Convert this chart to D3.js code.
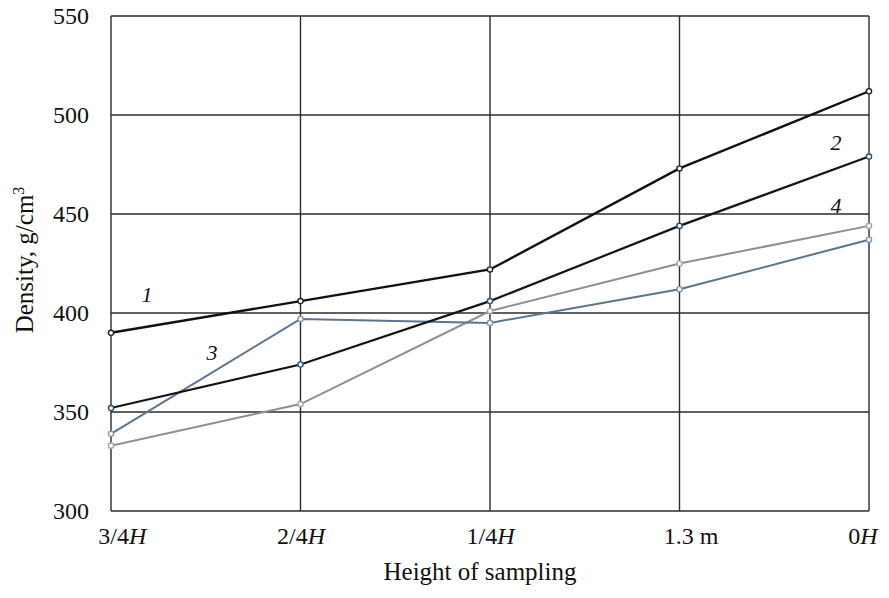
<!DOCTYPE html>
<html>
<head>
<meta charset="utf-8">
<script src="https://cdn.jsdelivr.net/npm/d3@7"></script>
<style>
  body { margin: 0; background: #fff; }
  text { font-family: "Liberation Serif", "DejaVu Serif", serif; fill: #111; }
</style>
</head>
<body>
<div id="main"></div>
<script>
// Data
const categories = ['3/4H', '2/4H', '1/4H', '1.3 m', '0H'];
const yTicks = [300, 350, 400, 450, 500, 550];

const series1 = [390, 406, 422, 473, 512];
const series2 = [352, 374, 406, 444, 479];
const series3 = [339, 397, 395, 412, 437];
const series4 = [333, 354, 401, 425, 444];

const seriesNames = ['1', '2', '3', '4'];

// Layout
const w = 889;
const h = 598;
const padLeft = 111, padRight = 869, padTop = 16, padBottom = 511;

const svg = d3.select('#main')
    .append('svg')
    .attr('width', w)
    .attr('height', h);

// Scales
const xScale = d3.scalePoint()
    .domain(categories)
    .range([padLeft, padRight]);

const yScale = d3.scaleLinear()
    .domain([300, 550])
    .range([padBottom, padTop]);

// Grid
svg.append('g')
    .selectAll('line')
    .data(yTicks)
    .enter()
    .append('line')
    .attr('x1', padLeft)
    .attr('x2', padRight)
    .attr('y1', (d) => yScale(d))
    .attr('y2', (d) => yScale(d))
    .attr('stroke', '#2b2b2b')
    .attr('stroke-width', 1.4);

svg.append('g')
    .selectAll('line')
    .data(categories)
    .enter()
    .append('line')
    .attr('x1', (d) => xScale(d))
    .attr('x2', (d) => xScale(d))
    .attr('y1', padTop)
    .attr('y2', padBottom)
    .attr('stroke', '#2b2b2b')
    .attr('stroke-width', 1.4);

// Axes (labels only, lines come from the grid)
const yAxis = d3.axisLeft(yScale)
    .tickValues(yTicks)
    .tickSize(0)
    .tickPadding(22);

svg.append('g')
    .attr('transform', `translate(${padLeft}, 0)`)
    .call(yAxis)
    .call((g) => g.select('.domain').remove())
    .selectAll('text')
    .style('font-family', '"Liberation Serif", serif')
    .style('font-size', '24px')
    .attr('fill', '#111');

const xAxis = d3.axisBottom(xScale)
    .tickSize(0)
    .tickPadding(16);

const xg = svg.append('g')
    .attr('transform', `translate(0, ${padBottom})`)
    .call(xAxis)
    .call((g) => g.select('.domain').remove());

xg.selectAll('text')
    .style('font-family', '"Liberation Serif", serif')
    .style('font-size', '24px')
    .attr('fill', '#111')
    .each(function (d) {
        const t = d3.select(this);
        t.text(null);
        const m = d.match(/^(.*?)(H)$/);
        if (m) {
            t.append('tspan').text(m[1]);
            t.append('tspan').style('font-style', 'italic').text('H');
        } else {
            t.text(d);
        }
    });

// keep the outer labels inside the chart edges, small nudge on "1.3 m"
xg.selectAll('.tick').each(function (d) {
    const t = d3.select(this).select('text');
    const bw = this.querySelector('text').getBBox().width;
    const x = xScale(d);
    let dx = 0;
    if (x - bw / 2 < 97) dx = 97 - (x - bw / 2);
    if (x + bw / 2 > 878) dx = 878 - (x + bw / 2);
    if (d === '1.3 m') dx = 11;
    t.attr('dx', dx);
});

// Lines
const lines = [
    { values: series1, color: '#111111', width: 2.4, marker: '#222222' },
    { values: series2, color: '#151515', width: 2.2, marker: '#2c4f78' },
    { values: series3, color: '#5d7491', width: 2, marker: '#7f95b0' },
    { values: series4, color: '#8f8f8f', width: 2, marker: '#a5a5a5' }
];

const line = d3.line()
    .x((d, i) => xScale(categories[i]))
    .y((d) => yScale(d));

// draw lighter series first so the dark ones sit on top
[3, 2, 1, 0].forEach((k) => {
    const s = lines[k];
    svg.append('path')
        .datum(s.values)
        .attr('d', line)
        .attr('fill', 'none')
        .attr('stroke', s.color)
        .attr('stroke-width', s.width);

    svg.append('g')
        .selectAll('circle')
        .data(s.values)
        .enter()
        .append('circle')
        .attr('cx', (d, i) => xScale(categories[i]))
        .attr('cy', (d) => yScale(d))
        .attr('r', 2.6)
        .attr('fill', '#fff')
        .attr('stroke', s.marker)
        .attr('stroke-width', 1.4);
});

// Series labels
const labelPos = [
    { x: 147, y: 302 },
    { x: 836, y: 150 },
    { x: 212, y: 360 },
    { x: 836, y: 213 }
];

svg.append('g')
    .selectAll('text')
    .data(seriesNames)
    .enter()
    .append('text')
    .attr('x', (d, i) => labelPos[i].x)
    .attr('y', (d, i) => labelPos[i].y)
    .attr('text-anchor', 'middle')
    .style('font-size', '22px')
    .style('font-style', 'italic')
    .text((d) => d);

// Axis titles
svg.append('text')
    .attr('x', 480)
    .attr('y', 580)
    .attr('text-anchor', 'middle')
    .style('font-size', '25px')
    .text('Height of sampling');

const yTitle = svg.append('text')
    .attr('transform', 'translate(33, 260) rotate(-90)')
    .attr('text-anchor', 'middle')
    .style('font-size', '25px');
yTitle.append('tspan').text('Density, g/cm');
yTitle.append('tspan').attr('dy', -9).style('font-size', '16px').text('3');
</script>
</body>
</html>
